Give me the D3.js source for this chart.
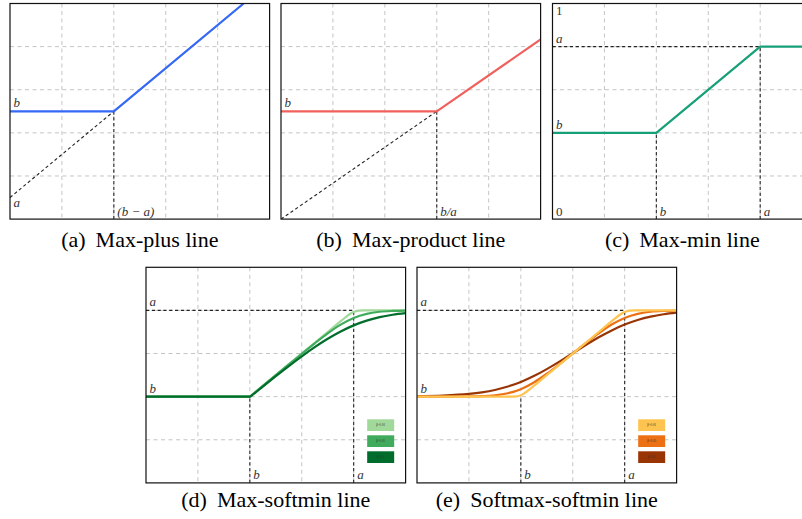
<!DOCTYPE html>
<html>
<head>
<meta charset="utf-8">
<script src="https://cdn.jsdelivr.net/npm/d3@7/dist/d3.min.js"></script>
<style>
  body { margin: 0; background: #fff; }
  svg { display: block; }
  .serif { font-family: "Liberation Serif", "Times New Roman", Times, "DejaVu Serif", serif; }
</style>
</head>
<body>
<div id="wrapper"></div>
<script>
// ---- values ----
// (a) max-plus, axes 0..5
const plusA = 0.5, plusB = 2.5;
const plusX = [0, 2, 4.5];
const plusY = [2.5, 2.5, 5];

// (b) max-product, axes 0..5
const prodB = 2.5, prodBreak = 3;
const prodX = [0, 3, 5];
const prodY = [2.5, 2.5, 4.167];

// (c)-(e) axes 0..1
const minA = 0.8, minB = 0.4;
const minX = [0, 0.4, 0.8, 1];
const minY = [0.4, 0.4, 0.8, 0.8];

// (d) max-softmin, three temperatures
const dLightX = [0, 0.4, 0.41, 0.5, 0.7, 0.75, 0.77, 0.78, 0.79, 0.8, 0.81, 0.82, 0.84, 0.87, 1];
const dLightY = [0.4, 0.4, 0.41, 0.5, 0.7, 0.7499, 0.7695, 0.7787, 0.7869, 0.7931, 0.7969, 0.7987, 0.7998, 0.8, 0.8];
const dMidX = [0, 0.4, 0.41, 0.5, 0.55, 0.6, 0.65, 0.7, 0.75, 0.8, 0.85, 0.9, 0.95, 1];
const dMidY = [0.4, 0.4, 0.41, 0.4999, 0.5497, 0.5991, 0.6476, 0.6937, 0.7343, 0.7653, 0.7843, 0.7937, 0.7976, 0.7991];
const dDarkX = [0, 0.4, 0.41, 0.45, 0.5, 0.55, 0.6, 0.65, 0.7, 0.75, 0.8, 0.85, 0.9, 0.95, 1];
const dDarkY = [0.4, 0.4, 0.408, 0.447, 0.4951, 0.5421, 0.5873, 0.6299, 0.6687, 0.7026, 0.7307, 0.7526, 0.7687, 0.7799, 0.7873];

// (e) softmax-softmin, three temperatures
const eLightX = [0, 0.3, 0.36, 0.38, 0.39, 0.4, 0.41, 0.42, 0.44, 0.5, 0.7, 0.76, 0.78, 0.79, 0.8, 0.81, 0.82, 0.84, 0.9, 1];
const eLightY = [0.4, 0.4, 0.4002, 0.4013, 0.4031, 0.4069, 0.4131, 0.4213, 0.4402, 0.5, 0.7, 0.7598, 0.7787, 0.7869, 0.7931, 0.7969, 0.7987, 0.7998, 0.8, 0.8];
const eX = [0, 0.1, 0.2, 0.25, 0.3, 0.35, 0.4, 0.45, 0.5, 0.55, 0.6, 0.65, 0.7, 0.75, 0.8, 0.85, 0.9, 0.95, 1];
const eMidY = [0.4, 0.4001, 0.4009, 0.4024, 0.4063, 0.4157, 0.4347, 0.4657, 0.5062, 0.5521, 0.6, 0.648, 0.6938, 0.7344, 0.7653, 0.7843, 0.7937, 0.7976, 0.7991];
const eDarkY = [0.4018, 0.4049, 0.4127, 0.4201, 0.4311, 0.447, 0.4684, 0.4956, 0.5278, 0.5637, 0.6016, 0.6395, 0.6753, 0.7073, 0.7343, 0.7555, 0.7712, 0.7821, 0.7894];

const legendLabels = ["\u03b2=0.01", "\u03b2=0.05", "\u03b2=0.1"];
const greens = ["#a1d99b", "#41ab5d", "#006d2c"];
const oranges = ["#fec44f", "#ec7014", "#993404"];

const zip = (xs, ys) => xs.map((v, i) => [v, ys[i]]);

// ---- layout ----
const W = 259.6, H = 215.6;

const svg = d3.select("#wrapper")
  .append("svg")
    .attr("width", 802)
    .attr("height", 519);

function panel(opt) {
  const g = svg.append("g")
    .attr("transform", `translate(${opt.left},${opt.top})`);

  const x = d3.scaleLinear().domain([0, opt.max]).range([0, W]);
  const y = d3.scaleLinear().domain([0, opt.max]).range([H, 0]);

  // dashed grid
  const inner = x.ticks(5).slice(1, -1);
  g.append("g").selectAll("line").data(inner).join("line")
    .attr("x1", d => x(d)).attr("x2", d => x(d))
    .attr("y1", 0).attr("y2", H)
    .attr("stroke", "#c4c4c4").attr("stroke-width", 1)
    .attr("stroke-dasharray", "4,3.5");
  g.append("g").selectAll("line").data(inner).join("line")
    .attr("y1", d => y(d)).attr("y2", d => y(d))
    .attr("x1", 0).attr("x2", W)
    .attr("stroke", "#c4c4c4").attr("stroke-width", 1)
    .attr("stroke-dasharray", "4,3.5");

  const clipId = "clip-" + opt.id;
  g.append("clipPath").attr("id", clipId)
    .append("rect").attr("width", W).attr("height", H);

  const plot = g.append("g").attr("clip-path", `url(#${clipId})`);

  // black dashed guides
  plot.selectAll(".guide").data(opt.guides).join("line")
    .attr("class", "guide")
    .attr("x1", d => x(d[0][0])).attr("y1", d => y(d[0][1]))
    .attr("x2", d => x(d[1][0])).attr("y2", d => y(d[1][1]))
    .attr("stroke", "#222").attr("stroke-width", 1.1)
    .attr("stroke-dasharray", "3.2,2.6");

  const lineGen = d3.line()
    .x(d => x(d[0]))
    .y(d => y(d[1]))
    .curve(opt.curve || d3.curveLinear);

  plot.selectAll(".series").data(opt.series).join("path")
    .attr("class", "series")
    .attr("d", d => lineGen(d.pts))
    .attr("fill", "none")
    .attr("stroke", d => d.color)
    .attr("stroke-width", 2.2)
    .attr("stroke-linejoin", "round");

  // frame
  g.append("rect")
    .attr("width", W).attr("height", H)
    .attr("fill", "none").attr("stroke", "#111").attr("stroke-width", 1.2);

  // math labels
  g.selectAll(".lab").data(opt.labels).join("text")
    .attr("class", "lab serif")
    .attr("x", d => d.side === "bottom" ? x(d.v) + 3.5 : 3.5)
    .attr("y", d => d.side === "bottom" ? H - 3.5 : y(d.v) - 4)
    .attr("font-style", d => d.upright ? "normal" : "italic")
    .attr("font-size", 13)
    .attr("fill", "#333")
    .text(d => d.t);

  if (opt.legend) {
    const lg = g.append("g")
      .attr("transform", `translate(${x(0.852)},${y(0.295)})`);
    const items = lg.selectAll("g").data(opt.legend).join("g")
      .attr("transform", (d, i) => `translate(0,${i * 16})`);
    items.append("rect")
      .attr("width", 27).attr("height", 11.7)
      .attr("fill", d => d.color);
    items.append("text")
      .attr("class", "serif")
      .attr("x", 13.5).attr("y", 7)
      .attr("text-anchor", "middle")
      .attr("font-size", 3.2)
      .attr("fill", "#333")
      .text(d => d.label);
  }

  // caption
  const cap = svg.append("text")
    .attr("class", "serif")
    .attr("x", opt.left + W / 2)
    .attr("y", opt.capY)
    .attr("text-anchor", "middle")
    .attr("font-size", 22)
    .attr("fill", "#000");
  cap.append("tspan").text(opt.caption[0]);
  cap.append("tspan").attr("dx", 10).text(opt.caption[1]);
}

panel({
  id: "a", left: 10, top: 3.5, max: 5, capY: 247,
  caption: ["(a)", "Max-plus line"],
  guides: [[[0, plusA], [plusB - plusA, plusB]], [[plusB - plusA, 0], [plusB - plusA, plusB]]],
  series: [{ pts: zip(plusX, plusY), color: "#3468f5" }],
  labels: [
    { t: "b", v: plusB },
    { t: "a", v: plusA - 0.31 },
    { t: "(b \u2212 a)", v: plusB - plusA, side: "bottom" }
  ]
});

panel({
  id: "b", left: 281, top: 3.5, max: 5, capY: 247,
  caption: ["(b)", "Max-product line"],
  guides: [[[0, 0], [prodBreak, prodB]], [[prodBreak, 0], [prodBreak, prodB]]],
  series: [{ pts: zip(prodX, prodY), color: "#f0605c" }],
  labels: [
    { t: "b", v: prodB },
    { t: "b/a", v: prodBreak, side: "bottom" }
  ]
});

const minGuides = [[[0, minA], [minA, minA]], [[minA, 0], [minA, minA]], [[minB, 0], [minB, minB]]];
const minLabels = [
  { t: "a", v: minA },
  { t: "b", v: minB },
  { t: "b", v: minB, side: "bottom" },
  { t: "a", v: minA, side: "bottom" }
];

panel({
  id: "c", left: 552.5, top: 3.5, max: 1, capY: 247,
  caption: ["(c)", "Max-min line"],
  guides: minGuides,
  series: [{ pts: zip(minX, minY), color: "#17a078" }],
  labels: minLabels.concat([
    { t: "1", v: 0.93, upright: true },
    { t: "0", v: 0, side: "bottom", upright: true }
  ])
});

panel({
  id: "d", left: 146, top: 267.3, max: 1, capY: 507,
  caption: ["(d)", "Max-softmin line"],
  curve: d3.curveMonotoneX,
  guides: minGuides,
  series: [
    { pts: zip(dLightX, dLightY), color: greens[0] },
    { pts: zip(dMidX, dMidY), color: greens[1] },
    { pts: zip(dDarkX, dDarkY), color: greens[2] }
  ],
  labels: minLabels,
  legend: legendLabels.map((l, i) => ({ label: l, color: greens[i] }))
});

panel({
  id: "e", left: 417, top: 267.3, max: 1, capY: 507,
  caption: ["(e)", "Softmax-softmin line"],
  curve: d3.curveMonotoneX,
  guides: minGuides,
  series: [
    { pts: zip(eX, eDarkY), color: oranges[2] },
    { pts: zip(eX, eMidY), color: oranges[1] },
    { pts: zip(eLightX, eLightY), color: oranges[0] }
  ],
  labels: minLabels,
  legend: legendLabels.map((l, i) => ({ label: l, color: oranges[i] }))
});
</script>
</body>
</html>
